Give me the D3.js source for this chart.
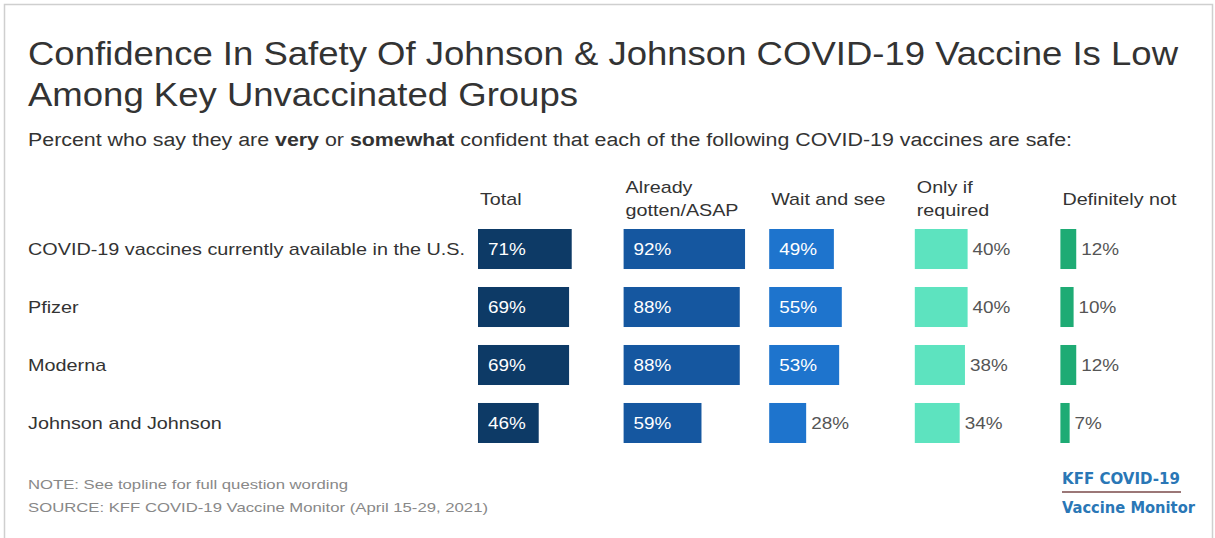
<!DOCTYPE html>
<html>
<head>
<meta charset="utf-8">
<script src="https://cdn.jsdelivr.net/npm/d3@7"></script>
<style>
  html, body { margin: 0; padding: 0; background: #fff; }
  svg { display: block; font-family: "Liberation Sans", Arial, sans-serif; }
</style>
</head>
<body>
<svg id="chart" width="1215" height="538"></svg>
<script>
const categories = ["COVID-19 vaccines currently available in the U.S.", "Pfizer", "Moderna", "Johnson and Johnson"];
const groups = ["Total", "Already gotten/ASAP", "Wait and see", "Only if required", "Definitely not"];
const groupHeaderLines = [["Total"], ["Already", "gotten/ASAP"], ["Wait and see"], ["Only if", "required"], ["Definitely not"]];
const groupColors = ["#0d3a66", "#1557a0", "#1e74cd", "#5de3bf", "#1eab74"];
const totalValues = [71, 69, 69, 46];
const alreadyValues = [92, 88, 88, 59];
const waitValues = [49, 55, 53, 28];
const requiredValues = [40, 40, 38, 34];
const notValues = [12, 10, 12, 7];
const seriesValues = [totalValues, alreadyValues, waitValues, requiredValues, notValues];

const svg = d3.select("#chart");

// stretch helper: widen text horizontally by factor k (or to an absolute width)
function stretchBy(sel, k) {
  sel.each(function () {
    const w = this.getComputedTextLength();
    d3.select(this).attr("textLength", w * k).attr("lengthAdjust", "spacingAndGlyphs");
  });
}
function stretchTo(sel, w) {
  sel.attr("textLength", w).attr("lengthAdjust", "spacingAndGlyphs");
}

// frame
svg.append("rect").attr("x", 4.5).attr("y", 4.5).attr("width", 1208).attr("height", 560)
  .attr("fill", "none").attr("stroke", "#cfcfcf").attr("stroke-width", 1.5);

// title
const t1 = svg.append("text").attr("x", 28).attr("y", 65).attr("fill", "#333")
  .style("font-size", "33px").text("Confidence In Safety Of Johnson & Johnson COVID-19 Vaccine Is Low");
stretchTo(t1, 1150);
const t2 = svg.append("text").attr("x", 28).attr("y", 106).attr("fill", "#333")
  .style("font-size", "33px").text("Among Key Unvaccinated Groups");
stretchTo(t2, 550);

// subtitle
const sub = svg.append("text").attr("x", 28).attr("y", 146).attr("fill", "#333").style("font-size", "18px");
sub.append("tspan").text("Percent who say they are ");
sub.append("tspan").attr("font-weight", "bold").text("very");
sub.append("tspan").text(" or ");
sub.append("tspan").attr("font-weight", "bold").text("somewhat");
sub.append("tspan").text(" confident that each of the following COVID-19 vaccines are safe:");
stretchTo(sub, 1044);

// scales
const colX = d3.scaleBand().domain(groups).range([478, 1206]).paddingInner(0).paddingOuter(0);
const y = d3.scaleBand().domain(categories).range([229, 443]).paddingInner(0.31).paddingOuter(0);
const x = d3.scaleLinear().domain([0, 100]).range([0, 132]);

// headers
groups.forEach((g, i) => {
  const lines = groupHeaderLines[i];
  lines.forEach((ln, j) => {
    const t = svg.append("text").attr("fill", "#333").style("font-size", "17px")
      .attr("x", colX(g) + 2)
      .attr("y", lines.length === 1 ? 205 : 193 + j * 23)
      .text(ln);
    stretchBy(t, 1.16);
  });
});

// row labels
const rl = svg.selectAll("text.rowlab").data(categories).enter().append("text")
  .attr("class", "rowlab")
  .attr("x", 28)
  .attr("y", d => y(d) + y.bandwidth() / 2)
  .attr("dy", "0.35em")
  .attr("fill", "#333")
  .style("font-size", "17px")
  .text(d => d);
stretchBy(rl, 1.165);

// bars
groups.forEach((g, gi) => {
  const data = categories.map((c, ci) => ({ c, v: seriesValues[gi][ci] }));
  const grp = svg.append("g");
  grp.selectAll("rect").data(data).enter().append("rect")
    .attr("x", colX(g))
    .attr("y", d => y(d.c))
    .attr("width", d => x(d.v))
    .attr("height", y.bandwidth())
    .attr("fill", groupColors[gi]);
  const inside = d => gi < 3 && d.v >= 45;
  const labs = grp.selectAll("text").data(data).enter().append("text")
    .attr("x", d => inside(d) ? colX(g) + 10 : colX(g) + x(d.v) + 5)
    .attr("y", d => y(d.c) + y.bandwidth() / 2)
    .attr("dy", "0.35em")
    .attr("fill", d => inside(d) ? "#ffffff" : "#555")
    .style("font-size", "16px")
    .text(d => d.v + "%");
  stretchBy(labs, 1.18);
});

// footer
const n1 = svg.append("text").attr("x", 28).attr("y", 489).attr("fill", "#888").style("font-size", "13px")
  .text("NOTE: See topline for full question wording");
stretchTo(n1, 320);
const n2 = svg.append("text").attr("x", 28).attr("y", 512).attr("fill", "#888").style("font-size", "13px")
  .text("SOURCE: KFF COVID-19 Vaccine Monitor (April 15-29, 2021)");
stretchTo(n2, 460);

// logo
const l1 = svg.append("text").attr("x", 1062).attr("y", 484).attr("fill", "#2a77b6")
  .style("font-family", "'DejaVu Sans Condensed', 'DejaVu Sans', sans-serif")
  .style("font-weight", "bold").style("font-size", "15px").text("KFF COVID-19");
stretchTo(l1, 118);
svg.append("line").attr("x1", 1062).attr("x2", 1181).attr("y1", 492).attr("y2", 492)
  .attr("stroke", "#7a4a4a").attr("stroke-width", 1.5);
const l2 = svg.append("text").attr("x", 1062).attr("y", 513).attr("fill", "#2a77b6")
  .style("font-family", "'DejaVu Sans Condensed', 'DejaVu Sans', sans-serif")
  .style("font-weight", "bold").style("font-size", "15px").text("Vaccine Monitor");
stretchTo(l2, 133);
</script>
</body>
</html>
